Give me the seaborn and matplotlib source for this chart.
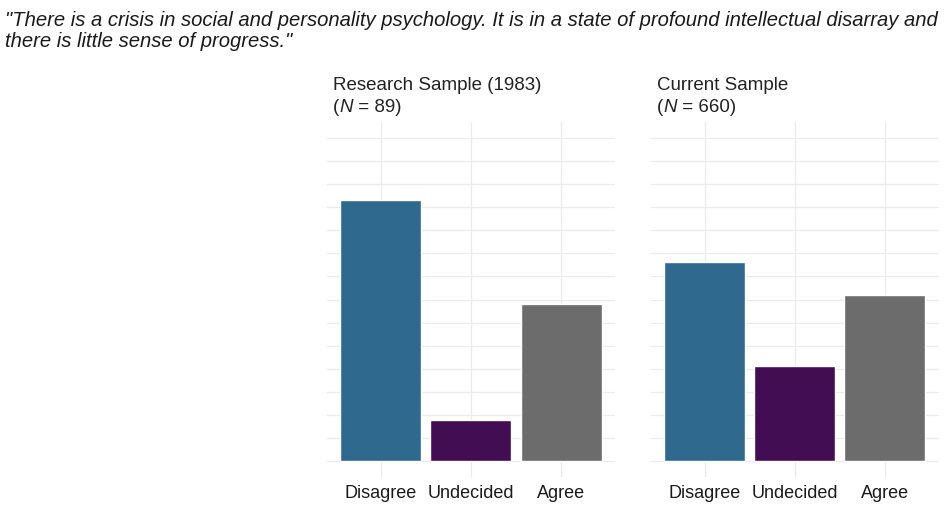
"""
Survey responses about the crisis in social and personality psychology,
1983 research sample versus the current sample.
"""

import numpy as np  # Import NumPy for array operations
import pandas as pd  # Import pandas for the long-form table
import matplotlib.pyplot as plt  # Import matplotlib for plotting
import seaborn as sns  # Import seaborn for the bars

# Data (percent of respondents)
responses = ["Disagree", "Undecided", "Agree"]
research_pct = [56.6, 8.8, 34.1]  # Research Sample (1983), N = 89
current_pct = [43.2, 20.6, 35.9]  # Current Sample, N = 660
panel_titles = ["Research Sample (1983)", "Current Sample"]
panel_n = [89, 660]
quote = ('"There is a crisis in social and personality psychology. It is in a state of '
         'profound intellectual disarray and\nthere is little sense of progress."')

colors = {"Disagree": "#2F6A8E", "Undecided": "#420D53", "Agree": "#6C6C6C"}

sns.set_theme(style="white")
plt.rcParams['font.family'] = ['Liberation Sans', 'DejaVu Sans']

df = pd.DataFrame({
    "sample": np.repeat(panel_titles, len(responses)),
    "response": responses * 2,
    "pct": research_pct + current_pct,
})

fig = plt.figure(figsize=(9.45, 5.15), dpi=100)
renderer = fig.canvas.get_renderer()

lefts = [327 / 945, 651 / 945]
title_x = [333 / 945, 657 / 945]
for left, tx, title, n in zip(lefts, title_x, panel_titles, panel_n):
    ax = fig.add_axes([left, 38 / 515, 288 / 945, 355 / 515])
    sub = df[df["sample"] == title]
    sns.barplot(data=sub, x="response", y="pct", hue="response", order=responses,
                palette=colors, width=0.9, saturation=1, legend=False, ax=ax)
    ax.set_xlim(-0.6, 2.6)
    ax.set_ylim(-3.5, 73.5)
    ax.set_yticks(np.arange(0, 71, 5))
    ax.set_yticklabels([])
    ax.grid(True, color="#EBEBEB", linewidth=0.9)
    ax.set_axisbelow(True)
    for s in ax.spines.values():  # theme_minimal look, no frame
        s.set_visible(False)
    ax.tick_params(length=0, pad=6, labelsize=13, labelcolor="#1A1A1A")
    ax.set_xlabel("")
    ax.set_ylabel("")
    fig.text(tx, 1 - 85 / 515, title, fontsize=13.5, color="#222222", va="center")

    # "(N = xx)" with an italic N, drawn piece by piece
    x = tx
    for piece, st in [("(", "normal"), ("N", "italic"), (" = %d)" % n, "normal")]:
        t = fig.text(x, 1 - 107 / 515, piece, fontsize=13.5, style=st,
                     color="#222222", va="center")
        x = fig.transFigure.inverted().transform(
            (t.get_window_extent(renderer).x1, 0))[0]

fig.text(0.005, 1 - 31 / 515, quote, fontsize=14.6, style="italic", color="#1A1A1A",
         va="center", linespacing=1.08)

plt.savefig("out.png", dpi=100)
plt.close()
